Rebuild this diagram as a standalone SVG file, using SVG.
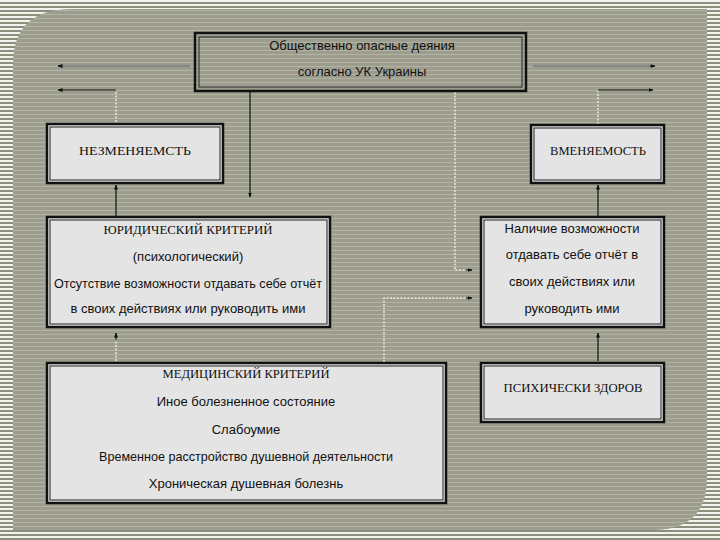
<svg xmlns="http://www.w3.org/2000/svg" width="720" height="540" viewBox="0 0 720 540">
  <defs>
    <pattern id="outerStripes" width="4" height="4" patternUnits="userSpaceOnUse">
      <rect width="4" height="4" fill="#f2f2ee"/>
      <rect y="2" width="4" height="2" fill="#8e8e7e"/>
    </pattern>
    <pattern id="innerStripes" width="4" height="4" patternUnits="userSpaceOnUse">
      <rect width="4" height="4" fill="#9d9d8d"/>
      <rect y="2" width="4" height="1" fill="#b3b3a5"/>
    </pattern>
    <marker id="arrow" viewBox="0 0 10 10" refX="9" refY="5" markerWidth="5" markerHeight="5" orient="auto-start-reverse" markerUnits="userSpaceOnUse">
      <path d="M0,1 L10,5 L0,9 Z" fill="#111"/>
    </marker>
  </defs>
  <style>
    .box { fill: #e4e4e4; stroke: #111; stroke-width: 2.5; }
    .boxin { fill: none; stroke: #222; stroke-width: 1; }
    .tbox { fill: none; stroke: #111; stroke-width: 2.5; }
    .sans { font-family: "Liberation Sans", Arial, sans-serif; font-size: 13px; fill: #111; text-anchor: middle; }
    .serif { font-family: "Liberation Serif", "Times New Roman", serif; font-size: 13.5px; fill: #111; text-anchor: middle; }
    .blk { fill: none; stroke: #111; stroke-width: 1.2; }
    .gry { fill: none; stroke: #888; stroke-width: 2.5; }
    .lt { fill: none; stroke: #e6e6e0; stroke-width: 1.5; stroke-dasharray: 2 1.5; }
  </style>

  <!-- background -->
  <rect x="0" y="0" width="720" height="540" fill="url(#outerStripes)"/>
  <path d="M13,65 Q13,9 72,9 L707,9 L707,478 Q707,530 652,530 L13,530 Z" fill="url(#innerStripes)"/>

  <!-- connectors -->
  <g id="connectors">
    <line class="gry" x1="190" y1="66" x2="60" y2="66"/>
    <line class="blk" x1="62" y1="66" x2="58" y2="66" marker-end="url(#arrow)"/>
    <polyline class="lt" points="116,122 116,90"/>
    <polyline class="blk" points="116,90 58,90" marker-end="url(#arrow)"/>

    <line class="gry" x1="533" y1="66" x2="652" y2="66"/>
    <line class="blk" x1="650" y1="66" x2="655" y2="66" marker-end="url(#arrow)"/>
    <polyline class="lt" points="598,124 598,90"/>
    <polyline class="blk" points="598,90 653,90" marker-end="url(#arrow)"/>

    <line class="blk" x1="250" y1="92" x2="250" y2="197" marker-end="url(#arrow)"/>
    <polyline class="lt" points="455,92 455,270 470,270"/>
    <line class="blk" x1="466" y1="270" x2="472" y2="270" marker-end="url(#arrow)"/>
    <polyline class="lt" points="384,362 384,298 470,298"/>
    <line class="blk" x1="466" y1="298" x2="472" y2="298" marker-end="url(#arrow)"/>

    <line class="blk" x1="116" y1="216" x2="116" y2="185" marker-end="url(#arrow)"/>
    <line class="blk" x1="598" y1="216" x2="598" y2="185" marker-end="url(#arrow)"/>
    <line class="lt" x1="116" y1="361" x2="116" y2="338"/>
    <line class="blk" x1="116" y1="340" x2="116" y2="333" marker-end="url(#arrow)"/>
    <line class="blk" x1="598" y1="361" x2="598" y2="333" marker-end="url(#arrow)"/>
  </g>

  <!-- nodes -->
  <g id="top">
    <rect class="tbox" x="195" y="33" width="331" height="58"/>
    <rect class="boxin" x="199" y="37" width="323" height="50"/>
    <text class="sans" x="362" y="50">Общественно опасные деяния</text>
    <text class="sans" x="362" y="76">согласно УК Украины</text>
  </g>

  <g id="nezm">
    <rect class="box" x="47" y="124" width="176" height="59"/>
    <rect class="boxin" x="50" y="127" width="170" height="53"/>
    <text class="serif" x="135" y="155" textLength="112" lengthAdjust="spacingAndGlyphs">НЕЗМЕНЯЕМСТЬ</text>
  </g>

  <g id="vmen">
    <rect class="box" x="531" y="125" width="133" height="58"/>
    <rect class="boxin" x="534" y="128" width="127" height="52"/>
    <text class="serif" x="598" y="155" textLength="96" lengthAdjust="spacingAndGlyphs">ВМЕНЯЕМОСТЬ</text>
  </g>

  <g id="jur">
    <rect class="box" x="47" y="217" width="283" height="110"/>
    <rect class="boxin" x="50" y="220" width="277" height="104"/>
    <text class="serif" x="188" y="234" textLength="169" lengthAdjust="spacingAndGlyphs">ЮРИДИЧЕСКИЙ  КРИТЕРИЙ</text>
    <text class="sans" x="188" y="261">(психологический)</text>
    <text class="sans" x="188" y="288" textLength="268" lengthAdjust="spacingAndGlyphs">Отсутствие возможности отдавать себе отчёт</text>
    <text class="sans" x="188" y="313">в своих действиях или  руководить ими</text>
  </g>

  <g id="nal">
    <rect class="box" x="481" y="217" width="183" height="110"/>
    <rect class="boxin" x="484" y="220" width="177" height="104"/>
    <text class="sans" x="572" y="233">Наличие возможности</text>
    <text class="sans" x="572" y="259">отдавать себе  отчёт  в</text>
    <text class="sans" x="572" y="286">своих действиях или</text>
    <text class="sans" x="572" y="313">руководить ими</text>
  </g>

  <g id="med">
    <rect class="box" x="47" y="363" width="399" height="140"/>
    <rect class="boxin" x="50" y="366" width="393" height="134"/>
    <text class="serif" x="246" y="378" textLength="167" lengthAdjust="spacingAndGlyphs">МЕДИЦИНСКИЙ КРИТЕРИЙ</text>
    <text class="sans" x="246" y="406">Иное болезненное состояние</text>
    <text class="sans" x="246" y="434">Слабоумие</text>
    <text class="sans" x="246" y="461" textLength="294" lengthAdjust="spacingAndGlyphs">Временное расстройство душевной деятельности</text>
    <text class="sans" x="246" y="488">Хроническая душевная болезнь</text>
  </g>

  <g id="zdor">
    <rect class="box" x="481" y="363" width="183" height="59"/>
    <rect class="boxin" x="484" y="366" width="177" height="53"/>
    <text class="serif" x="573" y="392" textLength="139" lengthAdjust="spacingAndGlyphs">ПСИХИЧЕСКИ ЗДОРОВ</text>
  </g>
</svg>
